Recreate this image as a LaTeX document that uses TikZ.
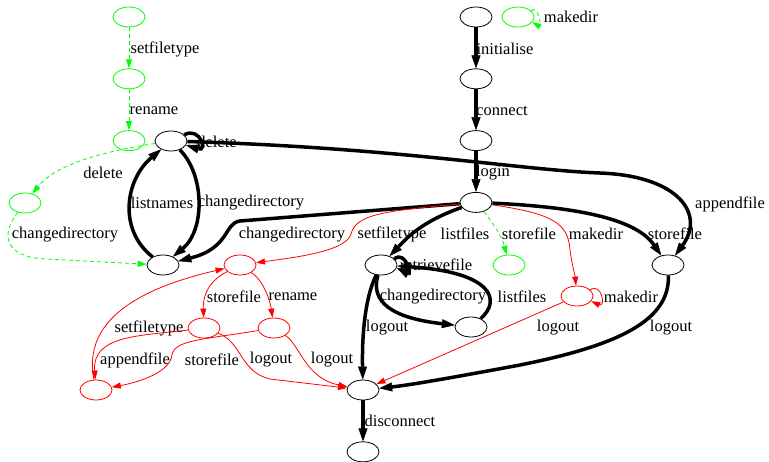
\documentclass[tikz,border=0pt]{standalone}
\usepackage{fontspec}
\setmainfont{Liberation Serif}
\usetikzlibrary{shapes.geometric,arrows.meta,positioning}

\tikzset{
  st/.style={ellipse, draw, line width=0.8pt, minimum width=32pt, minimum height=20pt, inner sep=0pt},
  lab/.style={font=\fontsize{16.5}{18}\selectfont, inner sep=0pt, black},
  mv/.style={line width=3.5pt, -{Triangle[length=13pt,width=9pt,line width=0.5pt]}},
  rd/.style={red, line width=0.8pt, -{Triangle[length=9pt,width=6pt]}},
  gn/.style={green, line width=0.8pt, dash pattern=on 4pt off 3pt, -{Triangle[length=9pt,width=6pt]}},
}

\begin{document}
\begin{tikzpicture}[x=1pt, y=-1pt]
  \useasboundingbox (0,0) rectangle (769,461);

  \node (g0) [st, green] at (129,17) {};
  \node (g1) [st, green, below=41pt of g0] {};
  \node (g2) [st, green, below=41pt of g1] {};
  \node (gm) [st, green] at (518,17) {};
  \node (s0) [st] at (476,17) {};
  \node (s1) [st, below=41pt of s0] {};
  \node (s2) [st, below=41pt of s1] {};
  \node (s3) [st, below=41pt of s2] {};
  \node (dl) [st] at (171,141) {};
  \node (gc) [st, green] at (25,203) {};
  \node (cd) [st] at (163,265) {};
  \node (r0) [st, red] at (240,265) {};
  \node (rf) [st] at (381,265) {};
  \node (gs) [st, green] at (509,265) {};
  \node (sf) [st] at (668,265) {};
  \node (mk) [st, red] at (577,296) {};
  \node (lf) [st] at (471,327) {};
  \node (r1) [st, red] at (204,328) {};
  \node (r2) [st, red] at (274,328) {};
  \node (r3) [st, red] at (96,390) {};
  \node (dc) [st] at (363,390) {};
  \node (ex) [st, below=41pt of dc] {};

  \draw[gn] (g0) -- (g1) node[lab, at={(165,49)}] (l1) {setfiletype};
  \draw[gn] (g1) -- (g2) node[lab, at={(154,111)}] (l2) {rename};
  \draw[gn] (gm.25) .. controls (538,4) and (542,28) .. (gm.-20) node[lab, at={(571,17)}] (l3) {makedir};

  \draw[mv] (s0) -- (s1) node[lab, at={(505,49)}] (l4) {initialise};
  \draw[mv] (s1) -- (s2) node[lab, at={(502,111)}] (l5) {connect};
  \draw[mv] (s2) -- (s3) node[lab, at={(493,173)}] (l6) {login};

  \draw[mv] (dl.25) .. controls (200,126) and (208,152) .. (dl.-15) node[lab, at={(217,142)}] (l7) {delete};
  \draw[mv] (dl) .. controls (400,148) and (520,170) .. (600,173)
    .. controls (680,176) and (705,215) .. (sf) node[lab, at={(730,204)}] (l8) {appendfile};
  \draw[mv] (cd) .. controls (118,230) and (125,180) .. (dl) node[lab, at={(162,203)}] (l9) {listnames};
  \draw[mv] (dl) .. controls (205,175) and (205,230) .. (cd) node[lab, at={(251,203)}] (l10) {changedirectory};
  \draw[gn] (dl) .. controls (100,152) and (55,165) .. (gc) node[lab, at={(103,173)}] (l11) {delete};
  \draw[gn] (gc) .. controls (0,235) and (5,257) .. (45,259) -- (cd) node[lab, at={(65,235)}] (l12) {changedirectory};

  \draw[mv] (s3) -- (240,221) .. controls (224,223) and (230,248) .. (cd) node[lab, at={(292,235)}] (l13) {changedirectory};
  \draw[rd] (s3) .. controls (385,211) and (356,214) .. (351,234)
    .. controls (346,252) and (290,258) .. (r0) node[lab, at={(392,234)}] (l14) {setfiletype};
  \draw[mv] (s3) .. controls (420,222) and (405,240) .. (rf) node[lab, at={(465,234)}] (l15) {listfiles};
  \draw[gn] (s3) .. controls (495,225) and (503,240) .. (gs) node[lab, at={(529,234)}] (l16) {storefile};
  \draw[rd] (s3) .. controls (555,214) and (568,224) .. (570,250)
    .. controls (572,265) and (575,275) .. (mk) node[lab, at={(596,234)}] (l17) {makedir};
  \draw[mv] (s3) .. controls (600,208) and (640,225) .. (sf) node[lab, at={(675,234)}] (l18) {storefile};

  \draw[mv] (rf.25) .. controls (406,250) and (412,276) .. (rf.-10) node[lab, at={(436,265)}] (l19) {retrievefile};
  \draw[mv] (rf) .. controls (370,302) and (392,318) .. (lf) node[lab, at={(433,297)}] (l20) {changedirectory};
  \draw[mv] (lf) .. controls (502,300) and (492,272) .. (rf) node[lab, at={(522,297)}] (l21) {listfiles};
  \draw[mv] (rf) .. controls (364,300) and (362,340) .. (dc) node[lab, at={(387,328)}] (l22) {logout};

  \draw[rd] (mk.25) .. controls (602,282) and (606,308) .. (mk.-20) node[lab, at={(631,297)}] (l23) {makedir};
  \draw[rd] (mk) -- (dc) node[lab, at={(558,328)}] (l24) {logout};
  \draw[mv] (sf) .. controls (670,320) and (620,345) .. (520,365)
    .. controls (450,378) and (410,385) .. (dc) node[lab, at={(671,328)}] (l25) {logout};

  \draw[rd] (r0) .. controls (205,283) and (203,300) .. (r1) node[lab, at={(234,297)}] (l26) {storefile};
  \draw[rd] (r0) .. controls (263,280) and (270,300) .. (r2) node[lab, at={(293,297)}] (l27) {rename};
  \draw[rd] (r3) .. controls (82,320) and (140,288) .. (r0) node[lab, at={(149,328)}] (l28) {setfiletype};
  \draw[rd] (r1) .. controls (140,336) and (92,335) .. (r3) node[lab, at={(135,360)}] (l29) {appendfile};
  \draw[rd] (r2) .. controls (200,340) and (175,340) .. (172,355)
    .. controls (170,372) and (140,382) .. (r3) node[lab, at={(212,360)}] (l30) {storefile};
  \draw[rd] (r1) .. controls (242,342) and (240,372) .. (270,379) -- (dc) node[lab, at={(271,360)}] (l31) {logout};
  \draw[rd] (r2) .. controls (300,345) and (305,378) .. (dc) node[lab, at={(332,360)}] (l32) {logout};

  \draw[mv] (dc) -- (ex) node[lab, at={(400,421)}] (l33) {disconnect};
\end{tikzpicture}
\end{document}
